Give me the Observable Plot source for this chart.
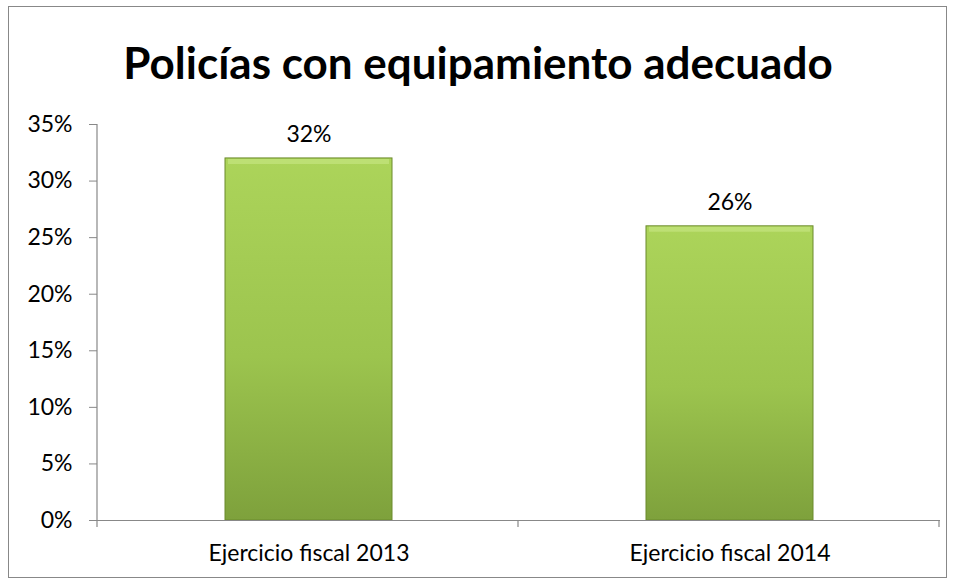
<!DOCTYPE html>
<html>
<head>
<meta charset="utf-8">
<script src="https://cdn.jsdelivr.net/npm/d3@7"></script>
<script src="https://cdn.jsdelivr.net/npm/@observablehq/plot@0.6"></script>
<style>
  html, body { margin: 0; padding: 0; background: #fff; }
  #wrap { position: relative; width: 956px; height: 580px; overflow: hidden; font-family: Lato, "Open Sans", sans-serif; }
  #frame { position: absolute; left: 8px; top: 6px; width: 939px; height: 572px; border: 1px solid #888; box-sizing: border-box; pointer-events: none; }
  #title { position: absolute; left: 0; top: 0; width: 956px; height: 100px; text-align: center; font-weight: bold; font-size: 44px; line-height: 124px; color: #000; }
  #chart { position: absolute; left: 0; top: 100px; }
</style>
</head>
<body>
<div id="wrap">
  <div id="title">Policías con equipamiento adecuado</div>
  <div id="chart"></div>
  <div id="frame"></div>
</div>
<script>
const categories = ["Ejercicio fiscal 2013", "Ejercicio fiscal 2014"];
const values = [0.32, 0.26];
const yTicks = [0, 0.05, 0.10, 0.15, 0.20, 0.25, 0.30, 0.35];

const data = categories.map((c, i) => ({category: c, value: values[i]}));
const fmt = d3.format(".0%");

const chart = Plot.plot({
  width: 956,
  height: 480,
  marginLeft: 97,
  marginRight: 16,
  marginTop: 24,
  marginBottom: 60,
  style: {fontFamily: "Lato, 'Open Sans', sans-serif", fontSize: "23px", color: "#000", background: "transparent"},
  x: {domain: categories, padding: 0, label: null},
  y: {domain: [0, 0.35], label: null},
  marks: [
    Plot.axisY({ticks: yTicks, tickFormat: fmt, tickSize: 8, tickPadding: 17, stroke: "#888", fontSize: 23, fill: "#000"}),
    Plot.axisX({tickSize: 0, tickPadding: 24, fontSize: 23, fill: "#000"}),
    Plot.barY(data, {x: "category", y: "value", insetLeft: 127, insetRight: 127, fill: "url(#barGrad)", stroke: "#6b8a2c", strokeWidth: 1}),
    Plot.tickY(data, {x: "category", y: "value", insetLeft: 130, insetRight: 130, dy: 3, stroke: "#c2e27a", strokeWidth: 5, strokeOpacity: 0.8}),
    Plot.text(data, {x: "category", y: "value", text: d => fmt(d.value), dy: -24, fontSize: 23, fill: "#000"}),
    Plot.ruleY([0], {stroke: "#888", strokeWidth: 1.2})
  ]
});

// gradient definition
const svg = d3.select(chart);
const defs = svg.insert("defs", ":first-child");
const grad = defs.append("linearGradient").attr("id", "barGrad").attr("x1", 0).attr("y1", 0).attr("x2", 0).attr("y2", 1);
grad.append("stop").attr("offset", "0%").attr("stop-color", "#acd45a");
grad.append("stop").attr("offset", "55%").attr("stop-color", "#9cc44e");
grad.append("stop").attr("offset", "100%").attr("stop-color", "#7ea13c");

// Excel-style category boundary ticks and y axis line, derived from scales
const xs = chart.scale("x");
const ys = chart.scale("y");
const step = xs.step;
const x0 = xs.range[0];
const yZero = ys.apply(0);
const yTop = ys.apply(0.35);
const g = svg.append("g").attr("stroke", "#888").attr("stroke-width", 1.2);
g.append("line").attr("x1", x0).attr("x2", x0).attr("y1", yTop).attr("y2", yZero + 7);
for (let i = 1; i <= categories.length; i++) {
  const xx = x0 + step * i;
  g.append("line").attr("x1", xx).attr("x2", xx).attr("y1", yZero).attr("y2", yZero + 7);
}

document.getElementById("chart").appendChild(chart);
</script>
</body>
</html>
